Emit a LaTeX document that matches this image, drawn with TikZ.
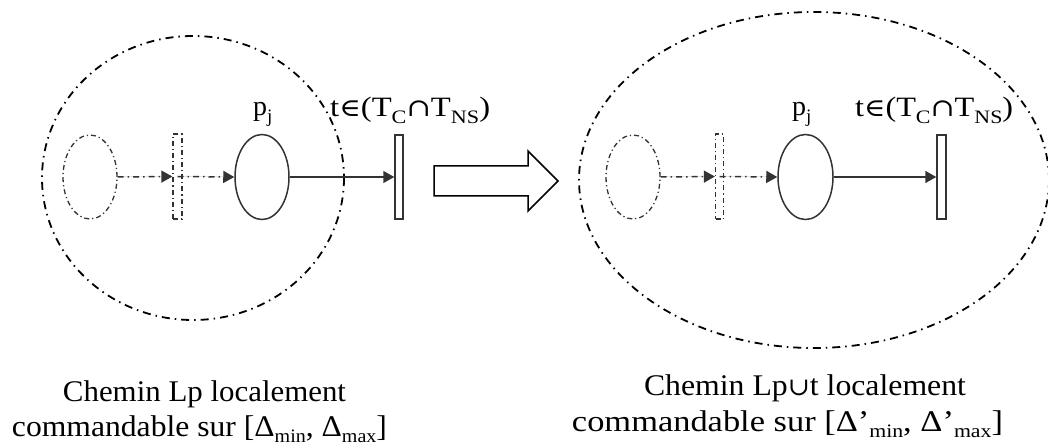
\documentclass[tikz,border=0pt]{standalone}
\usepackage{fontspec}
\usepackage{graphicx}
\setmainfont{Liberation Serif}
\newfontfamily\symf{DejaVu Serif}
\usetikzlibrary{arrows.meta,shapes.geometric}
\newcommand\lowsub[1]{\raisebox{-0.22em}{\fontsize{19}{19}\selectfont #1}}
\newcommand\sy[1]{{\symf\fontsize{25}{25}\selectfont #1}}
\tikzset{
  x=1pt, y=-1pt,
  lbl/.style={inner sep=0pt, anchor=base west, font=\fontsize{28}{34}\selectfont},
  caption/.style={inner sep=0pt, anchor=base, font=\fontsize{30}{36}\selectfont},
  bigzone/.style={draw=black, line width=1.8pt, dash pattern=on 8pt off 5pt on 1.5pt off 5pt},
  ghost/.style={draw=black!80, line width=1.3pt, dash pattern=on 5pt off 3pt on 1.2pt off 3pt},
  place/.style={draw=black!80, line width=1.5pt},
  trans/.style={draw=black!80, line width=1.5pt, rectangle, inner sep=0pt},
  arr/.style={-{Triangle[length=11pt,width=12pt]}, line width=1.5pt, draw=black!80, fill=black!80},
  ghostarr/.style={arr, dash pattern=on 6pt off 4pt on 1.5pt off 4pt},
}
\begin{document}
\begin{tikzpicture}
\useasboundingbox (0,0) rectangle (1048,446);
\begin{scope}
\clip (0,0) rectangle (1048,446);
% left zone
\draw[bigzone] (193,178) ellipse [x radius=151, y radius=142];
\node[ghost, ellipse, minimum width=54pt, minimum height=84pt, inner sep=0pt] (a1) at (90,177) {};
\node[trans, ghost, minimum width=9pt, minimum height=85pt] (r1) at (177.5,176.5) {};
\node[place, ellipse, minimum width=54pt, minimum height=85pt, inner sep=0pt] (p1) at (262,177) {};
\node[trans, minimum width=8pt, minimum height=84pt] (t1) at (399,177) {};
\draw[ghostarr] (a1.east) -- (r1.west);
\draw[ghostarr] (r1.center) -- (p1.west);
\draw[arr] (p1.east) -- (t1.west);
\node[lbl] (lp1) at (253,116) {p\lowsub{j}};
\node[lbl] (lt1) at (330,117) {\resizebox{160pt}{\height}{t\sy{∈}(T\lowsub{C}\sy{∩}T\lowsub{NS})}};
% right zone
\draw[bigzone] (814,180) ellipse [x radius=235, y radius=168];
\node[ghost, ellipse, minimum width=54pt, minimum height=84pt, inner sep=0pt] (a2) at (633,177) {};
\node[trans, ghost, minimum width=8pt, minimum height=85pt] (r2) at (719.5,176.5) {};
\node[place, ellipse, minimum width=55pt, minimum height=85pt, inner sep=0pt] (p2) at (805.5,177) {};
\node[trans, minimum width=9pt, minimum height=84pt] (t2) at (941.5,177) {};
\draw[ghostarr] (a2.east) -- (r2.west);
\draw[ghostarr] (r2.center) -- (p2.west);
\draw[arr] (p2.east) -- (t2.west);
\node[lbl] (lp2) at (792,116) {p\lowsub{j}};
\node[lbl] (lt2) at (855,117) {\resizebox{158pt}{\height}{t\sy{∈}(T\lowsub{C}\sy{∩}T\lowsub{NS})}};
\end{scope}
% hollow arrow
\draw[line width=1.5pt, fill=white] (434,166) -- (528,166) -- (528,151) -- (558,181) -- (528,211) -- (528,196) -- (434,196) -- cycle;
% captions
\node[caption] (c1a) at (204.5,401) {\resizebox{283pt}{\height}{Chemin Lp localement}};
\node[caption] (c1b) at (199.5,436) {\resizebox{375pt}{\height}{commandable sur [Δ\lowsub{min}, Δ\lowsub{max}]}};
\node[caption] (c2a) at (805,395) {\resizebox{322pt}{\height}{Chemin Lp\sy{∪}t localement}};
\node[caption] (c2b) at (787.5,431) {\resizebox{431pt}{\height}{commandable sur [Δ’\lowsub{min}, Δ’\lowsub{max}]}};
\end{tikzpicture}
\end{document}
